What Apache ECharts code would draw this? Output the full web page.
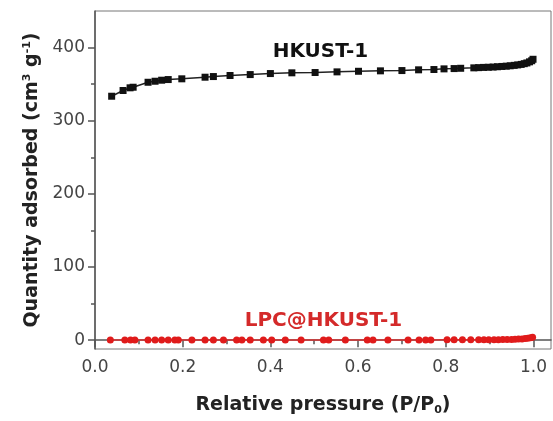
<!DOCTYPE html>
<html>
<head>
<meta charset="utf-8">
<script src="https://cdn.jsdelivr.net/npm/echarts@6/dist/echarts.min.js"></script>
<style>
  html, body { margin: 0; padding: 0; background: #fff; }
  #chart { width: 553px; height: 421px; }
</style>
</head>
<body>
<div id="chart"></div>
<script>
// relative pressure (P/P0) and quantity adsorbed
const hkustP = [0.038, 0.064, 0.080, 0.087, 0.121, 0.137, 0.152, 0.167, 0.198, 0.251, 0.270, 0.308,
  0.354, 0.400, 0.449, 0.502, 0.552, 0.601, 0.651, 0.700, 0.738, 0.773, 0.796, 0.819, 0.834,
  0.864, 0.875, 0.886, 0.897, 0.908, 0.918, 0.928, 0.938, 0.947, 0.956, 0.964, 0.972, 0.979,
  0.985, 0.991, 0.996, 0.999]
const hkustV = [333.5, 341.3, 345.0, 345.8, 352.6, 354.0, 355.4, 356.3, 357.3, 359.5, 360.4, 361.8,
  363.1, 364.5, 365.5, 365.9, 366.8, 367.6, 368.2, 368.6, 369.6, 370.0, 370.9, 371.3, 371.7,
  372.3, 372.6, 372.9, 373.1, 373.4, 373.8, 374.2, 374.6, 375.1, 375.7, 376.3, 377.0, 378.0,
  379.0, 380.5, 382.0, 384.0]

const lpcP = [0.035, 0.068, 0.081, 0.091, 0.121, 0.137, 0.152, 0.167, 0.182, 0.190, 0.221, 0.251,
  0.270, 0.293, 0.323, 0.335, 0.354, 0.384, 0.403, 0.434, 0.470, 0.521, 0.533, 0.571, 0.621,
  0.634, 0.668, 0.714, 0.739, 0.754, 0.766, 0.803, 0.819, 0.838, 0.857, 0.875, 0.887, 0.898,
  0.910, 0.920, 0.930, 0.940, 0.950, 0.958, 0.966, 0.974, 0.981, 0.987, 0.993, 0.998]
const lpcV = [0.3, 0.3, 0.3, 0.3, 0.3, 0.3, 0.3, 0.3, 0.3, 0.3, 0.3, 0.3,
  0.3, 0.3, 0.3, 0.3, 0.3, 0.3, 0.3, 0.3, 0.3, 0.3, 0.3, 0.4, 0.4,
  0.4, 0.4, 0.4, 0.4, 0.4, 0.4, 0.5, 0.5, 0.5, 0.5, 0.5, 0.5, 0.6,
  0.7, 0.8, 0.9, 1.0, 1.1, 1.3, 1.5, 1.8, 2.2, 2.7, 3.3, 4.2]

const xTicks = [0, 0.2, 0.4, 0.6, 0.8, 1.0]
const xMinor = [0.1, 0.3, 0.5, 0.7, 0.9]
const yTicks = [0, 100, 200, 300, 400]
const yMinor = [50, 150, 250, 350]

// where the curve names sit, in data units
const seriesLabels = [
  { text: 'HKUST-1', at: [0.514, 394], color: '#111' },
  { text: 'LPC@HKUST-1', at: [0.521, 27], color: '#d42a2a' },
]

const axisColor = '#555'
const labelStyle = { fontFamily: 'DejaVu Sans', fontSize: 17, color: '#444' }
const nameFont = { fontFamily: 'DejaVu Sans', fontWeight: 'bold', fontSize: 19, color: '#222' }

function pairs(xs, ys) {
  return xs.map((x, i) => [x, ys[i]])
}

const chart = echarts.init(document.getElementById('chart'))
chart.setOption({
  animation: false,
  grid: {
    left: 95, right: 2, top: 11, bottom: 72,
    outerBoundsMode: 'none',
    show: true, borderColor: '#777', borderWidth: 1,
  },
  xAxis: [
    {
      type: 'value', min: 0, max: 1.04,
      axisLine: { lineStyle: { color: axisColor, width: 1.5 } },
      axisTick: { inside: false, length: 7, customValues: xTicks, lineStyle: { color: axisColor, width: 1.5 } },
      axisLabel: { ...labelStyle, margin: 10, customValues: xTicks, formatter: (v) => v.toFixed(1) },
      splitLine: { show: false },
      name: '{a|Relative pressure (P/P}{sub|0}{a|)}',
      nameLocation: 'middle',
      nameGap: 46,
      nameTextStyle: {
        rich: {
          a: { ...nameFont },
          sub: { ...nameFont, fontSize: 11, padding: [10, 0, 0, 0] },
        },
      },
    },
    {
      type: 'value', min: 0, max: 1.04, position: 'bottom',
      axisLine: { show: false },
      axisTick: { length: 4, customValues: xMinor, lineStyle: { color: axisColor, width: 1.5 } },
      axisLabel: { show: false },
      splitLine: { show: false },
    },
  ],
  yAxis: [
    {
      type: 'value', min: -12, max: 450,
      axisLine: { show: true, lineStyle: { color: axisColor, width: 1.5 } },
      axisTick: { show: true, length: 7, customValues: yTicks, lineStyle: { color: axisColor, width: 1.5 } },
      axisLabel: { ...labelStyle, margin: 10, customValues: yTicks },
      splitLine: { show: false },
      name: '{a|Quantity adsorbed (cm}{sup|3}{a| g}{sup|-1}{a|)}',
      nameLocation: 'middle',
      nameGap: 52,
      nameTextStyle: {
        rich: {
          a: { ...nameFont },
          sup: { ...nameFont, fontSize: 11, padding: [0, 0, 10, 0] },
        },
      },
    },
    {
      type: 'value', min: -12, max: 450, position: 'left',
      axisLine: { show: false },
      axisTick: { show: true, length: 4, customValues: yMinor, lineStyle: { color: axisColor, width: 1.5 } },
      axisLabel: { show: false },
      splitLine: { show: false },
    },
  ],
  series: [
    {
      name: 'HKUST-1',
      type: 'line',
      data: pairs(hkustP, hkustV),
      symbol: 'rect',
      symbolSize: 7,
      itemStyle: { color: '#111' },
      lineStyle: { color: '#222', width: 1.5 },
    },
    {
      name: 'LPC@HKUST-1',
      type: 'line',
      data: pairs(lpcP, lpcV),
      symbol: 'circle',
      symbolSize: 7,
      itemStyle: { color: '#e01b1b' },
      lineStyle: { color: '#d83030', width: 1.5 },
    },
    {
      type: 'scatter',
      silent: true,
      symbolSize: 1,
      itemStyle: { color: 'rgba(0,0,0,0)', opacity: 1 },
      data: seriesLabels.map((s) => ({
        value: s.at,
        label: {
          show: true, position: 'inside', formatter: s.text, opacity: 1,
          fontFamily: 'DejaVu Sans', fontWeight: 'bold', fontSize: 20, color: s.color,
        },
      })),
    },
  ],
})
</script>
</body>
</html>
